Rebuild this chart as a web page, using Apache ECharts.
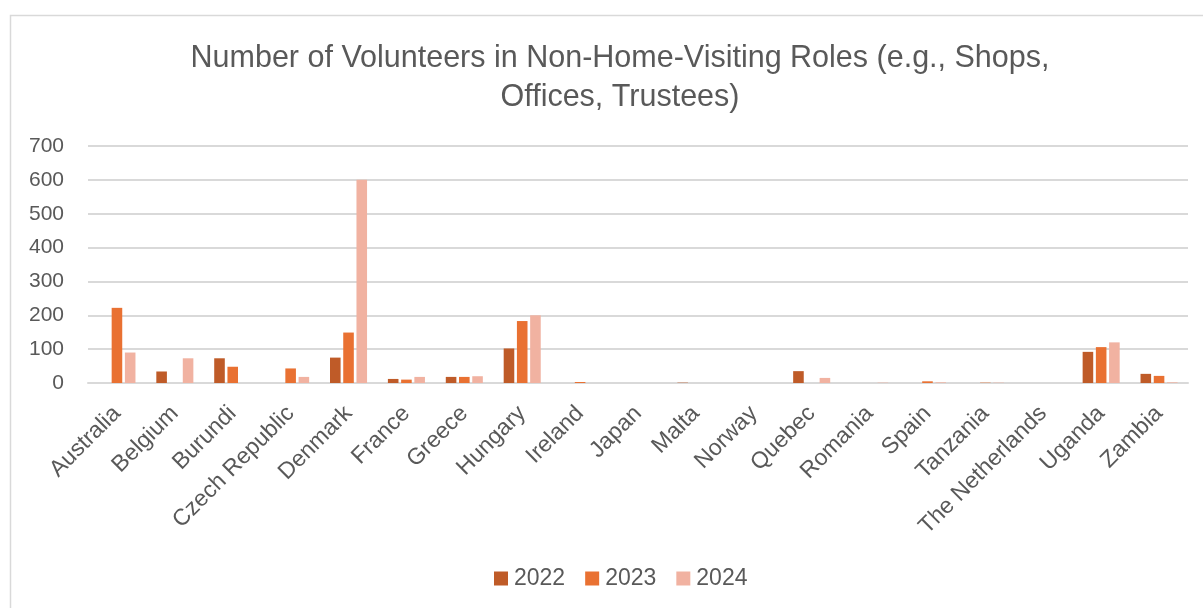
<!DOCTYPE html>
<html>
<head>
<meta charset="utf-8">
<script src="https://cdn.jsdelivr.net/npm/echarts@6/dist/echarts.min.js"></script>
<style>
  html, body { margin: 0; padding: 0; background: #fff; }
  #chart { width: 1203px; height: 608px; }
</style>
</head>
<body>
<div id="chart"></div>
<script>
// Volunteers in non-home-visiting roles, by country and year
const countries = ['Australia', 'Belgium', 'Burundi', 'Czech Republic', 'Denmark', 'France', 'Greece',
  'Hungary', 'Ireland', 'Japan', 'Malta', 'Norway', 'Quebec', 'Romania', 'Spain', 'Tanzania',
  'The Netherlands', 'Uganda', 'Zambia'];
const years = ['2022', '2023', '2024'];
const values2022 = [0, 34, 73, 0, 75, 12, 18, 102, 0, 0, 1, 0, 35, 0, 0, 0, 0, 92, 27];
const values2023 = [222, 0, 48, 43, 149, 10, 18, 183, 3, 0, 0, 0, 0, 0, 5, 1, 0, 106, 21];
const values2024 = [90, 73, 0, 18, 600, 18, 20, 200, 0, 0, 0, 0, 15, 1, 2, 1, 0, 120, 2];
const yTicks = [0, 100, 200, 300, 400, 500, 600, 700];

const colors = ['#BF5B28', '#E97132', '#F1B2A1'];
const textColor = '#595959';
const font = 'Liberation Sans';

const chart = echarts.init(document.getElementById('chart'));
const seriesData = [values2022, values2023, values2024];

chart.setOption({
  animation: false,
  color: colors,
  graphic: [{
    type: 'rect',
    shape: { x: 10.5, y: 15.5, width: 1200, height: 600 },
    style: { fill: 'none', stroke: '#d9d9d9', lineWidth: 1.5 },
    silent: true
  }],
  title: {
    text: 'Number of Volunteers in Non-Home-Visiting Roles (e.g., Shops,\nOffices, Trustees)',
    left: 615,
    textAlign: 'center',
    top: 34,
    textStyle: { fontFamily: font, fontSize: 30.5, fontWeight: 'normal', color: textColor, lineHeight: 39 }
  },
  legend: {
    data: years,
    bottom: 13,
    left: 489,
    itemWidth: 14,
    itemHeight: 14,
    itemGap: 20,
    icon: 'rect',
    textStyle: { fontFamily: font, fontSize: 23, color: textColor, padding: [0, 0, 0, 1] }
  },
  grid: { left: 88, right: 15, top: 146, bottom: 225, containLabel: false },
  xAxis: {
    type: 'category',
    data: countries,
    axisLine: { lineStyle: { color: '#d9d9d9', width: 2 } },
    axisTick: { show: false },
    axisLabel: { rotate: 45, fontFamily: font, fontSize: 23, color: textColor, interval: 0, margin: 27 }
  },
  yAxis: {
    type: 'value',
    min: yTicks[0],
    max: yTicks[yTicks.length - 1],
    interval: 100,
    axisLine: { show: false },
    axisTick: { show: false },
    splitLine: { lineStyle: { color: '#d9d9d9', width: 2 } },
    axisLabel: { fontFamily: font, fontSize: 21, color: textColor, margin: 24 }
  },
  series: years.map((y, i) => ({
    name: y,
    type: 'bar',
    data: seriesData[i],
    barGap: '25%',
    barCategoryGap: '36%'
  }))
});
</script>
</body>
</html>
